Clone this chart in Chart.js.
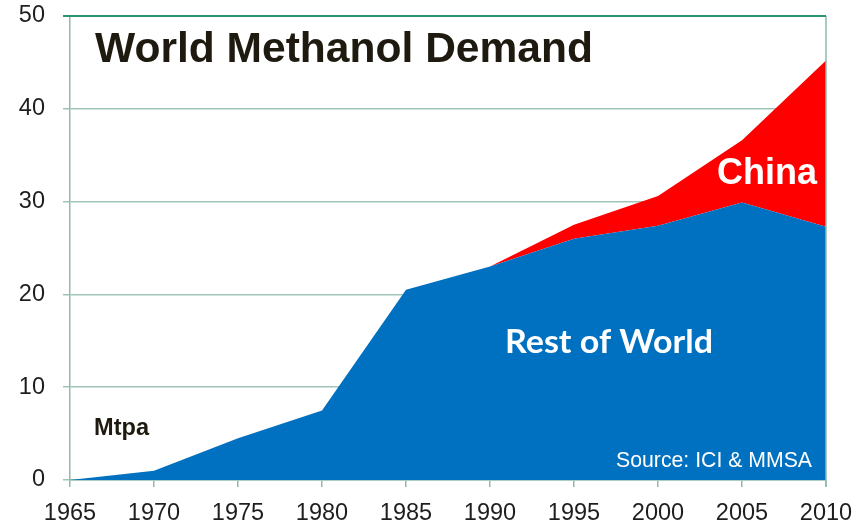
<!DOCTYPE html>
<html>
<head>
<meta charset="utf-8">
<script src="https://cdn.jsdelivr.net/npm/chart.js@4.4.1/dist/chart.umd.min.js"></script>
<style>
html,body{margin:0;padding:0;background:#fff;}
#wrap{width:868px;height:524px;position:relative;}
</style>
</head>
<body>
<div id="wrap"><canvas id="c" width="868" height="524"></canvas></div>
<script>
const years = ['1965','1970','1975','1980','1985','1990','1995','2000','2005','2010'];
const restOfWorld = [0, 1.0, 4.5, 7.5, 20.5, 23.0, 26.0, 27.4, 29.9, 27.3];
const china = [0, 0, 0, 0, 0, 0, 1.5, 3.2, 6.7, 17.9];
const yTicks = [0, 10, 20, 30, 40, 50];

function fitText(ctx, text, x, y, width) {
  const w = ctx.measureText(text).width;
  ctx.save();
  ctx.translate(x, y);
  ctx.scale(width / w, 1);
  ctx.fillText(text, 0, 0);
  ctx.restore();
}

const textPlugin = {
  id: 'texts',
  afterDatasetsDraw(chart) {
    const ctx = chart.ctx;
    const a = chart.chartArea;
    ctx.save();
    ctx.strokeStyle = '#8fbcaa';
    ctx.lineWidth = 1.5;
    ctx.beginPath();
    ctx.moveTo(a.right, a.top); ctx.lineTo(a.right, a.bottom + 7);
    ctx.stroke();
    ctx.strokeStyle = '#2e9474';
    ctx.lineWidth = 2;
    ctx.beginPath();
    ctx.moveTo(a.left - 7, a.top); ctx.lineTo(a.right, a.top);
    ctx.stroke();

    ctx.textBaseline = 'alphabetic';
    ctx.fillStyle = '#1e1a10';
    ctx.font = 'bold 42.5px "Liberation Sans", Arial, sans-serif';
    fitText(ctx, 'World Methanol Demand', 95, 62, 498);

    ctx.font = 'bold 23.5px "Liberation Sans", Arial, sans-serif';
    fitText(ctx, 'Mtpa', 94, 435, 55);

    ctx.fillStyle = '#ffffff';
    ctx.font = 'bold 37px "Liberation Sans", Arial, sans-serif';
    fitText(ctx, 'China', 717, 183.5, 100);

    ctx.font = 'bold 32px Lato, "Open Sans", sans-serif';
    fitText(ctx, 'Rest of World', 505, 352.5, 208);

    ctx.font = '21.5px "Liberation Sans", Arial, sans-serif';
    fitText(ctx, 'Source: ICI & MMSA', 616, 467, 196);
    ctx.restore();
  }
};

new Chart(document.getElementById('c'), {
  type: 'line',
  data: {
    labels: years,
    datasets: [
      {
        label: 'Rest of World',
        data: restOfWorld,
        backgroundColor: '#0070C0',
        borderWidth: 0,
        pointRadius: 0,
        fill: 'origin',
        tension: 0
      },
      {
        label: 'China',
        data: china,
        backgroundColor: '#FF0000',
        borderWidth: 0,
        pointRadius: 0,
        fill: '-1',
        tension: 0
      }
    ]
  },
  options: {
    responsive: false,
    animation: false,
    layout: { padding: { top: 16, right: 42, left: 0, bottom: 0 } },
    plugins: { legend: { display: false }, tooltip: { enabled: false }, title: { display: false } },
    scales: {
      x: {
        offset: false,
        grid: { display: true, drawOnChartArea: false, drawTicks: true, tickLength: 7, color: '#8fbcaa', lineWidth: 1.5 },
        border: { display: true, color: '#8fbcaa', width: 1.5 },
        ticks: { color: '#1e1e1e', font: { family: '"Liberation Sans", Arial, sans-serif', size: 23.5 }, padding: 12, maxRotation: 0, autoSkip: false },
        afterFit(s) { s.height = 44; s.paddingLeft = 0; s.paddingRight = 0; }
      },
      y: {
        stacked: true,
        min: 0, max: 50,
        afterBuildTicks(s) { s.ticks = yTicks.map(v => ({ value: v })); },
        grid: { color: '#9fc5b8', lineWidth: 1.5, tickLength: 7 },
        border: { display: true, color: '#8fbcaa', width: 1.5 },
        ticks: { color: '#1e1e1e', font: { family: '"Liberation Sans", Arial, sans-serif', size: 23.5 }, padding: 18 },
        afterFit(s) { s.width = 70; s.paddingTop = 0; s.paddingBottom = 0; }
      }
    }
  },
  plugins: [textPlugin]
});
</script>
</body>
</html>
